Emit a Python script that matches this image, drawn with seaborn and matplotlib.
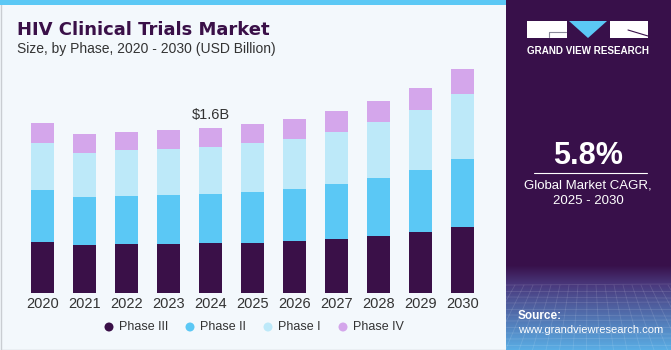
import numpy as np
import pandas as pd
import matplotlib
matplotlib.use("Agg")
import matplotlib.pyplot as plt
from matplotlib.patches import Rectangle, Polygon
import seaborn as sns

years = ["2020", "2021", "2022", "2023", "2024", "2025", "2026", "2027", "2028", "2029", "2030"]
phase_iii = [0.499, 0.466, 0.473, 0.476, 0.483, 0.489, 0.505, 0.525, 0.554, 0.593, 0.641]
phase_ii = [0.499, 0.463, 0.466, 0.473, 0.476, 0.492, 0.505, 0.531, 0.564, 0.599, 0.658]
phase_i = [0.460, 0.434, 0.444, 0.447, 0.460, 0.473, 0.489, 0.509, 0.538, 0.583, 0.635]
phase_iv = [0.194, 0.178, 0.181, 0.185, 0.181, 0.185, 0.188, 0.198, 0.207, 0.217, 0.236]
series_names = ["Phase III", "Phase II", "Phase I", "Phase IV"]
colors = ["#3A1048", "#5BC8F5", "#BDE9F9", "#D4A6EB"]
annot_year = "2024"
annot_text = "$1.6B"

sns.set_theme(style="white")
plt.rcParams["font.family"] = ["Liberation Sans", "DejaVu Sans"]

W, H = 671, 350
fig = plt.figure(figsize=(W / 100, H / 100), dpi=100)
bg = "#F3F8FC"
fig.patch.set_facecolor(bg)

# background overlay axes (pixel coordinates) for panel frame, strip, legend
bax = fig.add_axes([0, 0, 1, 1], zorder=-5)
bax.set_xlim(0, W)
bax.set_ylim(H, 0)
bax.axis("off")
bax.add_patch(Rectangle((0.5, 0.5), 506, 349, facecolor=bg, edgecolor="#C9CDD2", linewidth=1.0))
bax.add_patch(Rectangle((0, 0), 506, 5, facecolor="#5BC8F5", edgecolor="none"))

df = pd.DataFrame({"year": years, "Phase III": phase_iii, "Phase II": phase_ii,
                   "Phase I": phase_i, "Phase IV": phase_iv})
cum = df[series_names].cumsum(axis=1)

ax = fig.add_axes([17.3 / W, 57 / H, 470.4 / W, 237 / H], zorder=2)
ax.set_facecolor("none")
for name, col in reversed(list(zip(series_names, colors))):
    sns.barplot(x=df["year"], y=cum[name], color=col, width=0.55, ax=ax,
                saturation=1, edgecolor="none", zorder=2)
ax.set_xlim(-0.6, 10.6)
ax.set_ylim(0, 2.3)
ax.set_xlabel("")
ax.set_ylabel("")
ax.set_yticks([])
for s in ax.spines.values():
    s.set_visible(False)
ax.tick_params(axis="x", length=0, pad=3, labelsize=10.5, labelcolor="#333333")

i = years.index(annot_year)
ax.text(i, cum["Phase IV"][i] + 0.06, annot_text, ha="center", va="bottom",
        fontsize=10.5, color="#333333")

# titles
fig.text(17 / W, 1 - 35 / H, "HIV Clinical Trials Market", fontsize=13, fontweight="heavy",
         color="#3A1048", family=["DejaVu Sans"])
fig.text(17 / W, 1 - 53 / H, "Size, by Phase, 2020 - 2030 (USD Billion)", fontsize=10,
         color="#333333")

# legend (manual)
lax = fig.add_axes([0, 0, 1, 1], zorder=3)
lax.set_xlim(0, W)
lax.set_ylim(H, 0)
lax.axis("off")
leg_x = [109, 190, 268, 343]
for x, n, c in zip(leg_x, series_names, colors):
    lax.scatter([x], [327], s=42, color=c, edgecolor="none")
    lax.text(x + 10, 327, n, ha="left", va="center", fontsize=9, color="#333333")

# right panel
rax = fig.add_axes([506 / W, 0, 165 / W, 1], zorder=1)
rax.set_xlim(0, 165)
rax.set_ylim(350, 0)
rax.axis("off")
top_c = np.array(matplotlib.colors.to_rgb("#38104A"))
mid_c = np.array(matplotlib.colors.to_rgb("#4A3A7E"))
bot_c = np.array(matplotlib.colors.to_rgb("#5AAFE6"))
rows = []
for y in range(350):
    if y < 265:
        c = top_c
    elif y < 285:
        t = (y - 265) / 20
        c = top_c * (1 - t) + mid_c * t
    else:
        t = (y - 285) / 65
        c = mid_c * (1 - t) + bot_c * t
    rows.append(c)
grad = np.array(rows)[:, None, :].repeat(2, axis=1)
rax.imshow(grad, extent=[0, 165, 350, 0], aspect="auto", zorder=0)
for k in range(12):
    yy = 285 + k * 6
    rax.plot([0, 165], [yy, yy + (k % 3 - 1)], color="white", alpha=0.12, lw=0.6, zorder=1)
for k in range(20):
    xx = k * 9
    rax.plot([xx, xx + (xx - 82) * 0.5], [285, 350], color="white", alpha=0.12, lw=0.6, zorder=1)
rax.set_xlim(0, 165)
rax.set_ylim(350, 0)

# logo
rax.add_patch(Rectangle((21, 21), 40, 17, facecolor="white", edgecolor="none", zorder=3))
rax.plot([43, 60], [32, 32], color="#8A8A9A", lw=0.8, zorder=4)
rax.plot([43, 43], [32, 37], color="#8A8A9A", lw=0.8, zorder=4)
rax.add_patch(Polygon([[63, 21], [101, 21], [82, 38]], closed=True, facecolor="#5BC8F5",
                      edgecolor="none", zorder=3))
rax.add_patch(Rectangle((104, 21), 38, 17, facecolor="white", edgecolor="none", zorder=3))
rax.plot([122, 142], [30, 36], color="#38104A", lw=0.8, zorder=4)
rax.text(82, 51, "GRAND VIEW RESEARCH", ha="center", va="center", fontsize=7.1,
         fontweight="bold", color="white", zorder=3)

rax.text(82, 156, "5.8%", ha="center", va="center", fontsize=22, fontweight="bold",
         color="white", zorder=3)
rax.plot([28, 141], [173, 173], color="white", lw=0.8, zorder=3)
rax.text(82, 185, "Global Market CAGR,", ha="center", va="center", fontsize=9.5,
         color="white", zorder=3)
rax.text(82, 201, "2025 - 2030", ha="center", va="center", fontsize=9.5,
         color="white", zorder=3)
rax.text(12, 316, "Source:", ha="left", va="center", fontsize=8.5, fontweight="bold",
         color="white", zorder=3)
rax.text(12, 330, "www.grandviewresearch.com", ha="left", va="center", fontsize=8,
         color="white", zorder=3)

fig.savefig("out.png", dpi=100, facecolor=fig.get_facecolor())
